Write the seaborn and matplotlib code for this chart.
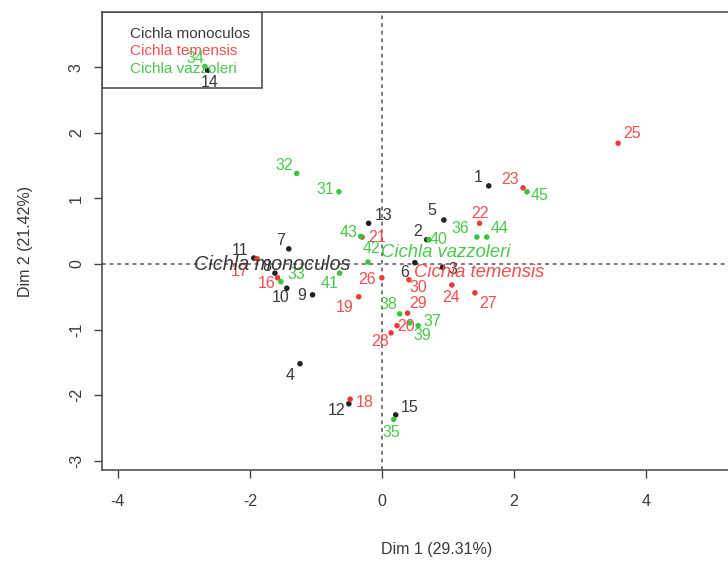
import matplotlib
matplotlib.use("Agg")
import matplotlib.pyplot as plt
import seaborn as sns
import pandas as pd

# ---- data (individual factor map) ----
ind_label = [str(i) for i in range(1, 46)]
ind_x = [1.62, 0.68, 0.92, -1.24, 0.94, 0.50, -1.41, -1.62, -1.05, -1.44,
         -1.94, -0.50, -0.20, -2.64, 0.21,
         -1.58, -1.89, -0.48, -0.35, 0.23, -0.30, 1.48, 2.14, 1.06, 3.58,
         0.00, 1.41, 0.14, 0.39, 0.41,
         -0.65, -1.29, -1.53, -2.68, 0.18, 1.44, 0.55, 0.27, 0.42, 0.71,
         -0.64, -0.21, -0.32, 1.59, 2.20]
ind_y = [1.19, 0.37, -0.05, -1.52, 0.67, 0.02, 0.23, -0.14, -0.47, -0.37,
         0.09, -2.13, 0.62, 2.95, -2.30,
         -0.21, 0.08, -2.06, -0.50, -0.94, 0.41, 0.62, 1.16, -0.32, 1.84,
         -0.21, -0.44, -1.05, -0.75, -0.24,
         1.10, 1.38, -0.27, 3.01, -2.37, 0.41, -0.94, -0.76, -0.90, 0.37,
         -0.14, 0.03, 0.42, 0.41, 1.10]
species_names = ["Cichla monoculos", "Cichla temensis", "Cichla vazzoleri"]
ind_species = [species_names[0]] * 15 + [species_names[1]] * 15 + [species_names[2]] * 15

# group centres (supplementary qualitative categories)
cent_x = [-0.45, 0.44, -0.06]
cent_y = [-0.05, -0.17, 0.14]

x_ticks = [-4, -2, 0, 2, 4]
y_ticks = [-3, -2, -1, 0, 1, 2, 3]
x_title = "Dim 1 (29.31%)"
y_title = "Dim 2 (21.42%)"

# ---- styling / label placement (pixel offsets from point) ----
label_offsets = [(-11, 8), (-9, 8), (10, -2), (-10, -12), (-12, 10), (-10, -10), (-8, 8), (-8, 7), (-11, -1), (-6, -9),
                 (-14, 8), (-12, -7), (15, 8), (2, -12), (14, 7),
                 (-11, -6), (-17, -13), (15, -3), (-14, -11), (9, -1), (15, 0), (0, 10), (-13, 8), (-1, -13), (14, 10),
                 (-15, -2), (13, -11), (-11, -9), (10, 10), (9, -8),
                 (-14, 2), (-12, 8), (15, 7), (-10, 8), (-2, -13), (-17, 9), (14, 4), (-11, 9), (13, -12), (10, 0),
                 (-10, -10), (4, 13), (-12, 4), (13, 9), (13, -4)]

palette = {species_names[0]: "#222222", species_names[1]: "#ee3a3a", species_names[2]: "#3cc43c"}
text_col = {species_names[0]: "#3a3a3a", species_names[1]: "#f05050", species_names[2]: "#4cc84c"}

sns.set_theme(style="white")
plt.rcParams["font.family"] = ["Liberation Sans", "DejaVu Sans"]

W, H = 728, 561
fig = plt.figure(figsize=(W / 100, H / 100), dpi=100)

# plot region in pixels: left 102, top 12, bottom 470; scale 66 px / unit in x
xmin, ymin, ymax = -4.24, -3.14, 3.84
px_per_unit = 66.0
xmax = 5.9
ax_w_px = (xmax - xmin) * px_per_unit
ax = fig.add_axes([102 / W, 1 - 470 / H, ax_w_px / W, (470 - 12) / H])

df = pd.DataFrame({"x": ind_x, "y": ind_y, "label": ind_label, "species": ind_species})

ax.axhline(0, color="#555555", lw=1.1, ls=(0, (2.5, 2.5)), zorder=1)
ax.axvline(0, color="#555555", lw=1.1, ls=(0, (2.5, 2.5)), zorder=1)

sns.scatterplot(data=df, x="x", y="y", hue="species", palette=palette, s=16,
                edgecolor="none", legend=False, ax=ax, zorder=3)

for xi, yi, lab, sp, off in zip(ind_x, ind_y, ind_label, ind_species, label_offsets):
    ax.annotate(lab, (xi, yi), xytext=off, textcoords="offset pixels",
                ha="center", va="center", fontsize=11.5, color=text_col[sp], zorder=4)

cent_ha = ["right", "left", "left"]
cent_off = [(-2, 3), (3, 3), (3, 2)]
cent_size = [14.3, 13.3, 13.3]
for cx, cy, name, ha, off, fs in zip(cent_x, cent_y, species_names, cent_ha, cent_off, cent_size):
    ax.annotate(name, (cx, cy), xytext=off, textcoords="offset pixels",
                ha=ha, va="center", fontsize=fs, style="italic",
                color=text_col[name], zorder=5)

ax.set_xlim(xmin, xmax)
ax.set_ylim(ymin, ymax)
ax.set_xticks(x_ticks)
ax.set_yticks(y_ticks)
ax.set_xticklabels([str(t) for t in x_ticks], color="#3a3a3a", fontsize=11.5)
ax.set_yticklabels([str(t) for t in y_ticks], color="#3a3a3a", fontsize=11.5,
                   rotation=90, va="center")
ax.tick_params(axis="x", direction="out", length=6, width=1, color="#444444",
               bottom=True, pad=11)
ax.tick_params(axis="y", direction="out", length=6, width=1, color="#444444",
               left=True, pad=7)
for sp in ax.spines.values():
    sp.set_color("#444444")
    sp.set_linewidth(1.1)
ax.set_xlabel(x_title, fontsize=11.5, color="#3a3a3a", labelpad=24)
ax.set_ylabel(y_title, fontsize=11.5, color="#3a3a3a", labelpad=26)
ax.grid(False)

# legend box (text only, coloured)
from matplotlib.patches import Rectangle
box = Rectangle((0, 1 - (88 - 12) / (470 - 12)), (262 - 102) / ax_w_px, (88 - 12) / (470 - 12),
                transform=ax.transAxes, fill=True, facecolor="white",
                edgecolor="#444444", lw=1.1, zorder=2)
ax.add_patch(box)
leg_y = [34, 51, 69]
for name, yy in zip(species_names, leg_y):
    ax.text((130 - 102) / ax_w_px, 1 - (yy - 12) / (470 - 12), name, transform=ax.transAxes,
            ha="left", va="center", fontsize=11, color=text_col[name], zorder=3)

fig.savefig("out.png", dpi=100)
